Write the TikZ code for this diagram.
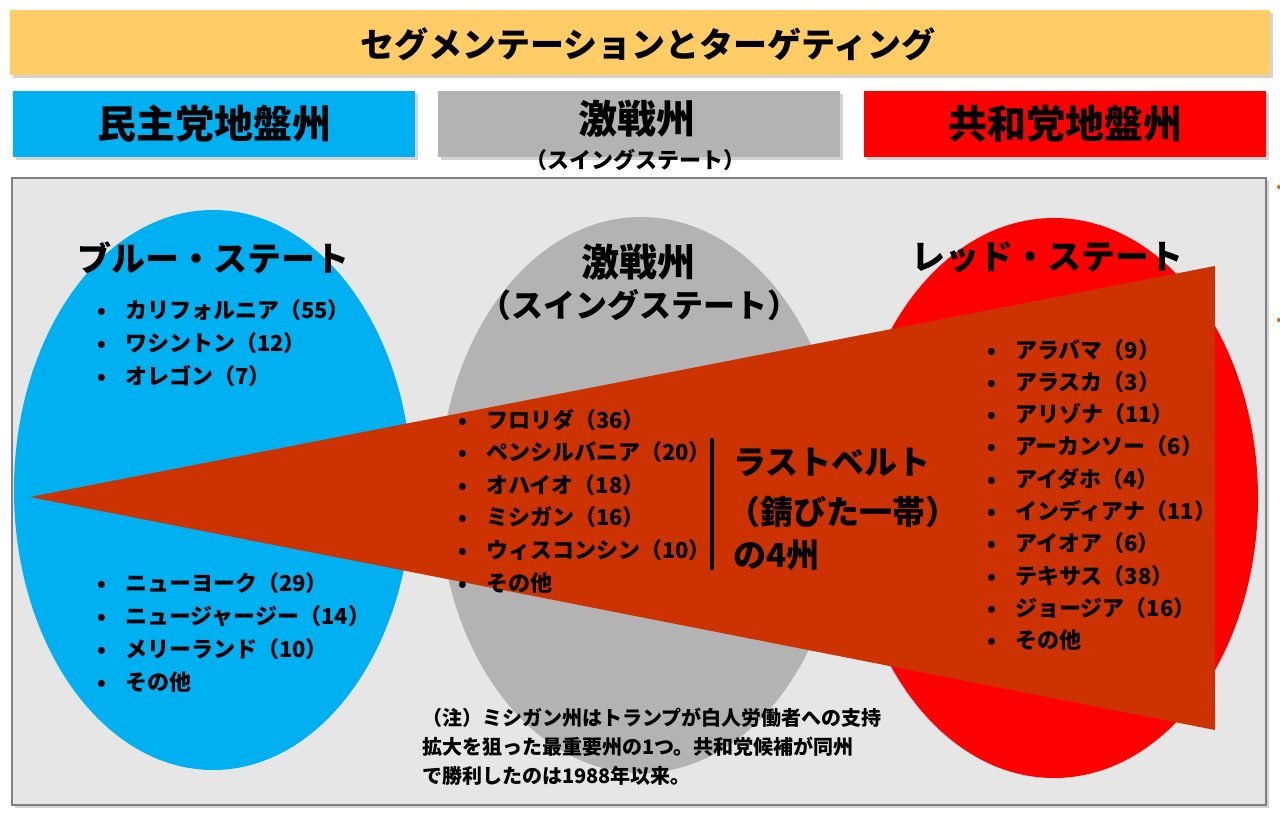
\documentclass[tikz,border=0pt]{standalone}
\usepackage{fontspec}
\setmainfont{Noto Sans CJK JP}
\usetikzlibrary{positioning,shapes.geometric,shadows}
\definecolor{titlebar}{HTML}{FFCC66}
\definecolor{demblue}{HTML}{00B0F0}
\definecolor{swinggray}{HTML}{B3B3B3}
\definecolor{repred}{HTML}{FF0000}
\definecolor{wedge}{HTML}{CC3300}
\definecolor{panelgray}{HTML}{E6E6E6}
\definecolor{panelline}{HTML}{7F7F7F}
\newcommand{\bul}{\makebox[28pt][l]{•}}
\newcommand{\fs}[1]{\bfseries\fontsize{#1}{#1}\selectfont}

\begin{document}
\begin{tikzpicture}[x=1pt,y=-1pt]
   \tikzstyle{every node}=[inner sep=0pt,font=\fs{22}]
   \tikzstyle{shade}=[drop shadow={opacity=0.35,shadow xshift=3pt,shadow yshift=-3pt}]
   \tikzstyle{hdr}=[shade,minimum width=402pt,minimum height=66pt,font=\fs{39}]
   \tikzstyle{big}=[font=\fs{33}]
   \tikzstyle{item}=[anchor=west,text height=17pt,text depth=5pt]
   \useasboundingbox (0,0) rectangle (1280,814) ;

   \node (bar) [shade,fill=titlebar,minimum width=1260pt,minimum height=65pt] at (640,42) {} ;
   \node (title) [font=\fs{34}] at (648,44) {セグメンテーションとターゲティング} ;
   \node (dem) [hdr,fill=demblue] at (214,124) {民主党地盤州} ;
   \node (swing) [hdr,fill=swinggray] at (639,124) {} ;
   \node (rep) [hdr,fill=repred] at (1065,124) {共和党地盤州} ;
   \node (swtitle) [font=\fs{39}] at (637,119) {激戦州} ;
   \node (swsub) [font=\fs{22}] at (635,160) {（スイングステート）} ;

   \node (panel) [shade,draw=panelline,line width=2pt,fill=panelgray,minimum width=1254pt,minimum height=627pt] at (639,491) {} ;
   \fill [orange!85!black] (1279,187) circle (2pt) (1279,320) circle (2pt) ;

   \node (blue) [ellipse,fill=demblue,minimum width=398pt,minimum height=560pt] at (213,490) {} ;
   \node (gray) [ellipse,fill=swinggray,minimum width=404pt,minimum height=556pt] at (641,495) {} ;
   \node (red) [ellipse,fill=repred,minimum width=408pt,minimum height=560pt] at (1054,498) {} ;
   \fill [wedge] (30,497) -- (1215,266) -- (1215,730) -- cycle ;

   \node (bluet) [big,font=\fs{34}] at (213,258) {ブルー・ステート} ;
   \node (swt1) [big,font=\fs{38}] at (638,262) {激戦州} ;
   \node (swt2) [big,font=\fs{32}] at (639,305) {（スイングステート）} ;
   \node (redt) [big,font=\fs{34}] at (1047,257) {レッド・ステート} ;

   % blue states
   \node (ca) [item] at (97,312) {\bul カリフォルニア（55）} ;
   \node (wa) [below=33pt of ca.west,item] {\bul ワシントン（12）} ;
   \node (or) [below=33pt of wa.west,item] {\bul オレゴン（7）} ;
   \node (ny) [item] at (97,585) {\bul ニューヨーク（29）} ;
   \node (nj) [below=33pt of ny.west,item] {\bul ニュージャージー（14）} ;
   \node (md) [below=33pt of nj.west,item] {\bul メリーランド（10）} ;
   \node (bo) [below=33pt of md.west,item] {\bul その他} ;

   % swing states
   \node (fl) [item] at (458,422) {\bul フロリダ（36）} ;
   \node (pa) [below=32.6pt of fl.west,item] {\bul ペンシルバニア（20）} ;
   \node (oh) [below=32.6pt of pa.west,item] {\bul オハイオ（18）} ;
   \node (mi) [below=32.6pt of oh.west,item] {\bul ミシガン（16）} ;
   \node (wi) [below=32.6pt of mi.west,item] {\bul ウィスコンシン（10）} ;
   \node (so) [below=32.6pt of wi.west,item] {\bul その他} ;

   \coordinate (bartop) at (712,438) ;
   \coordinate (barbot) at (712,570) ;
   \draw [line width=4pt] (bartop) -- (barbot) ;
   \node (rb1) [big,anchor=west] at (733,462) {ラストベルト} ;
   \node (rb2) [big,anchor=west] at (727,512) {（錆びた一帯）} ;
   \node (rb3) [big,anchor=west] at (733,555) {の4州} ;

   % red states
   \node (al) [item] at (987,352) {\bul アラバマ（9）} ;
   \node (ak) [below=32.3pt of al.west,item] {\bul アラスカ（3）} ;
   \node (az) [below=32.3pt of ak.west,item] {\bul アリゾナ（11）} ;
   \node (ar) [below=32.3pt of az.west,item] {\bul アーカンソー（6）} ;
   \node (id) [below=32.3pt of ar.west,item] {\bul アイダホ（4）} ;
   \node (in) [below=32.3pt of id.west,item] {\bul インディアナ（11）} ;
   \node (ia) [below=32.3pt of in.west,item] {\bul アイオア（6）} ;
   \node (tx) [below=32.3pt of ia.west,item] {\bul テキサス（38）} ;
   \node (ga) [below=32.3pt of tx.west,item] {\bul ジョージア（16）} ;
   \node (ro) [below=32.3pt of ga.west,item] {\bul その他} ;

   \node (note) [anchor=north west,align=left,font=\bfseries\fontsize{20}{29}\selectfont] at (422,708)
      {（注）ミシガン州はトランプが白人労働者への支持\\拡大を狙った最重要州の1つ。共和党候補が同州\\で勝利したのは1988年以来。} ;

\end{tikzpicture}
\end{document}
